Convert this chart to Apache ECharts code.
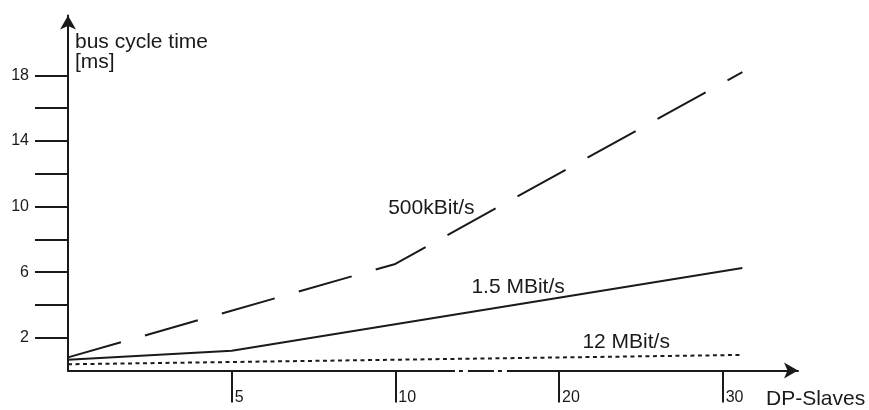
<!DOCTYPE html>
<html>
<head>
<meta charset="utf-8">
<script src="https://cdn.jsdelivr.net/npm/echarts@6/dist/echarts.min.js"></script>
<style>
  html, body { margin: 0; padding: 0; background: #fff; }
  #chart { width: 869px; height: 410px; }
</style>
</head>
<body>
<div id="chart"></div>
<script>
// x axis is drawn by position (0..4), labels are the DP-slave counts
const xLabels = ['', '5', '10', '20', '30']
const yLabelValues = [2, 6, 10, 14, 18]
const yTickValues = [2, 4, 6, 8, 10, 12, 14, 16, 18]

// [x position, bus cycle time ms]
const kbit500 = [[0, 0.8], [2, 6.5], [4.12, 18.2]]
const mbit15 = [[0, 0.65], [1, 1.2], [4.12, 6.25]]
const mbit12 = [[0, 0.38], [4.12, 0.95]]

// interrupted stretch of the x axis (between 10 and 20)
const axisBreak = [[2.364, 0], [2.682, 0]]

const ink = '#1a1a1a'
const font = 'Liberation Sans, Arial, sans-serif'

let myChart = echarts.init(document.getElementById('chart'))

function textMark(name, coord) {
    return {
        symbolSize: 0,
        silent: true,
        label: {
            show: true,
            position: 'inside',
            formatter: name,
            color: ink,
            fontSize: 21,
            fontFamily: font
        },
        data: [{coord: coord, value: name}]
    }
}

option = {
    animation: false,
    backgroundColor: '#fff',
    grid: {left: 68, right: 71, top: 15.5, bottom: 39.5, outerBoundsMode: 'none'},
    xAxis: {
        type: 'value',
        min: 0,
        max: 4.46,
        interval: 1,
        splitLine: {show: false},
        axisLine: {
            show: true,
            symbol: ['none', 'arrow'],
            symbolSize: [12, 14],
            lineStyle: {color: ink, width: 2}
        },
        axisTick: {
            show: true,
            customValues: [1, 2, 3, 4],
            length: 32,
            lineStyle: {color: ink, width: 2}
        },
        axisLabel: {
            customValues: [1, 2, 3, 4],
            formatter: function (v) { return xLabels[Math.round(v)] },
            align: 'left',
            padding: [0, 0, 0, 3],
            margin: 19.5,
            color: ink,
            fontSize: 16,
            fontFamily: font
        },
        name: 'DP-Slaves',
        nameLocation: 'end',
        nameGap: -32,
        nameTextStyle: {
            align: 'left',
            verticalAlign: 'top',
            padding: [18, 0, 0, 0],
            lineHeight: 21,
            color: ink,
            fontSize: 21,
            fontFamily: font
        }
    },
    yAxis: {
        type: 'value',
        min: 0,
        max: 21.65,
        interval: 2,
        splitLine: {show: false},
        axisLine: {
            show: true,
            symbol: ['none', 'arrow'],
            symbolSize: [12, 14],
            lineStyle: {color: ink, width: 2}
        },
        axisTick: {
            show: true,
            customValues: yTickValues,
            length: 33,
            lineStyle: {color: ink, width: 2}
        },
        axisLabel: {
            customValues: yLabelValues,
            margin: 39,
            padding: [3, 0, 0, 0],
            color: ink,
            fontSize: 16,
            fontFamily: font
        },
        name: 'bus cycle time\n[ms]',
        nameLocation: 'end',
        nameGap: -17,
        nameTextStyle: {
            align: 'left',
            verticalAlign: 'top',
            padding: [0, 0, 0, 7],
            lineHeight: 19.5,
            color: ink,
            fontSize: 21,
            fontFamily: font
        }
    },
    series: [
        {
            name: '500kBit/s',
            type: 'line',
            data: kbit500,
            symbol: 'none',
            silent: true,
            lineStyle: {color: ink, width: 2, type: [55, 25]},
            markPoint: textMark('500kBit/s', [2.22, 9.9])
        },
        {
            name: '1.5 MBit/s',
            type: 'line',
            data: mbit15,
            symbol: 'none',
            silent: true,
            lineStyle: {color: ink, width: 2},
            markPoint: textMark('1.5 MBit/s', [2.75, 5.06])
        },
        {
            name: '12 MBit/s',
            type: 'line',
            data: mbit12,
            symbol: 'none',
            silent: true,
            lineStyle: {color: ink, width: 2, type: [4, 3.5]},
            markPoint: textMark('12 MBit/s', [3.41, 1.7])
        },
        {
            // white gaps turn the axis into a dash-dot break
            name: 'break',
            type: 'line',
            data: axisBreak,
            symbol: 'none',
            silent: true,
            z: 5,
            lineStyle: {color: '#fff', width: 4, cap: 'butt', type: [4, 4, 5, 26, 4, 4, 5]}
        }
    ]
};

myChart.setOption(option);
</script>
</body>
</html>
